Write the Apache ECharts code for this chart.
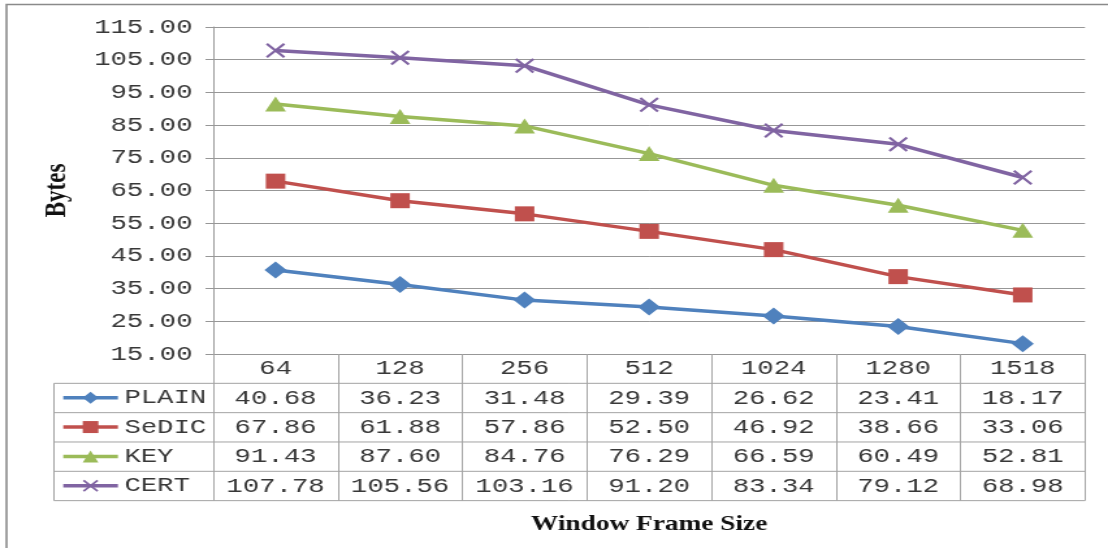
<!DOCTYPE html>
<html>
<head>
<meta charset="utf-8">
<title>Bytes by Window Frame Size</title>
<script src="https://cdn.jsdelivr.net/npm/echarts@6/dist/echarts.min.js"></script>
<style>
  html, body { margin: 0; padding: 0; background: #fff; overflow: hidden; }
  /* The chart is laid out on a narrower canvas and widened horizontally */
  #chart { width: 852px; height: 548px; transform: scaleX(1.300469); transform-origin: 0 0; }
</style>
</head>
<body>
<div id="chart"></div>
<script>
// ---- data ----
const categories = ['64', '128', '256', '512', '1024', '1280', '1518'];
const plain = [40.68, 36.23, 31.48, 29.39, 26.62, 23.41, 18.17];
const sedic = [67.86, 61.88, 57.86, 52.50, 46.92, 38.66, 33.06];
const key   = [91.43, 87.60, 84.76, 76.29, 66.59, 60.49, 52.81];
const cert  = [107.78, 105.56, 103.16, 91.20, 83.34, 79.12, 68.98];
const seriesNames = ['PLAIN', 'SeDIC', 'KEY', 'CERT'];
const yTicks = { min: 15, max: 115, step: 10 };

// ---- layout ----
const W = 852, H = 548;
const gridLeft = 164, gridRight = 17.7, gridTop = 27, gridBottom = 194;
const rowH = 29.33;               // data-table row height
const tableLeft = 41.5;           // left edge of the legend column
const axisY = H - gridBottom;     // y of the category axis line
const plotRight = W - gridRight;
const mono = '"Liberation Mono", "Courier New", monospace';
const serif = '"Liberation Serif", "Times New Roman", serif';
const gridColor = '#979797';
const tableColor = '#a3a3a3';
const textColor = '#383838';

const colors = ['#4F81BD', '#C0504D', '#9BBB59', '#8064A2'];
const values = [plain, sedic, key, cert];
const symbols = [
  'diamond',
  'rect',
  'triangle',
  'path://M1,0L5,4L9,0L10,1L6,5L10,9L9,10L5,6L1,10L0,9L4,5L0,1Z'
];
const symbolSizes = [[17, 17], [15, 15], [16, 15], [15, 15]];

// horizontal rules of the data table plus the legend column's left edge
const tableGraphics = [];
for (let k = 1; k <= 5; k++) {
  const y = axisY + k * rowH;
  tableGraphics.push({
    type: 'line', silent: true,
    shape: { x1: tableLeft, y1: y, x2: plotRight, y2: y },
    style: { stroke: tableColor, lineWidth: 1 }
  });
}
tableGraphics.push({
  type: 'line', silent: true,
  shape: { x1: tableLeft, y1: axisY + rowH, x2: tableLeft, y2: axisY + 5 * rowH },
  style: { stroke: tableColor, lineWidth: 1 }
});
// outer frame of the chart area
tableGraphics.push({
  type: 'rect', silent: true,
  shape: { x: 5, y: 4.5, width: W + 20, height: H + 20 },
  style: { fill: 'none', stroke: '#8a8a8a', lineWidth: 1.6 }
});

const chart = echarts.init(document.getElementById('chart'), null, { renderer: 'canvas' });

chart.setOption({
  backgroundColor: '#ffffff',
  animation: false,
  color: colors,
  grid: { left: gridLeft, right: gridRight, top: gridTop, bottom: gridBottom, containLabel: false },
  legend: {
    orient: 'vertical',
    left: 46.9,
    top: axisY + rowH + 3.4,
    padding: 0,
    itemWidth: 42,
    itemHeight: 15,
    itemGap: rowH - 22,
    selectedMode: false,
    data: seriesNames,
    lineStyle: { width: 3.5 },
    textStyle: { fontFamily: mono, fontSize: 21, color: textColor, lineHeight: 22 }
  },
  xAxis: {
    type: 'category',
    data: categories,
    boundaryGap: true,
    name: 'Window Frame Size',
    nameLocation: 'middle',
    nameGap: 160,
    nameTextStyle: { fontFamily: serif, fontWeight: 'bold', fontSize: 21, color: '#111' },
    axisLine: { show: true, lineStyle: { color: gridColor, width: 1 } },
    axisTick: { show: true, interval: 0, length: 5 * rowH, lineStyle: { color: tableColor, width: 1 } },
    axisLabel: {
      interval: 0,
      margin: 0,
      fontFamily: mono,
      fontSize: 21,
      color: textColor,
      lineHeight: rowH,
      formatter: function (value, idx) {
        const lines = [value];
        values.forEach(function (arr) { lines.push(arr[idx].toFixed(2)); });
        return lines.join('\n');
      }
    },
    splitLine: { show: false }
  },
  yAxis: {
    type: 'value',
    min: yTicks.min,
    max: yTicks.max,
    interval: yTicks.step,
    name: 'Bytes',
    nameLocation: 'middle',
    nameRotate: 90,
    nameGap: 108,
    nameTextStyle: { fontFamily: serif, fontWeight: 'bold', fontSize: 23, color: '#111' },
    axisLine: { show: true, lineStyle: { color: gridColor, width: 1 } },
    axisTick: { show: true, length: 6, lineStyle: { color: gridColor, width: 1 } },
    axisLabel: {
      margin: 16,
      fontFamily: mono,
      fontSize: 21,
      color: textColor,
      formatter: function (v) { return v.toFixed(2); }
    },
    splitLine: { show: true, lineStyle: { color: gridColor, width: 1 } }
  },
  series: seriesNames.map(function (name, i) {
    return {
      name: name,
      type: 'line',
      data: values[i],
      symbol: symbols[i],
      symbolSize: symbolSizes[i],
      showAllSymbol: true,
      lineStyle: { width: 3.5, color: colors[i] },
      itemStyle: { color: colors[i] },
      z: 3 + i
    };
  }),
  graphic: tableGraphics
});
</script>
</body>
</html>
